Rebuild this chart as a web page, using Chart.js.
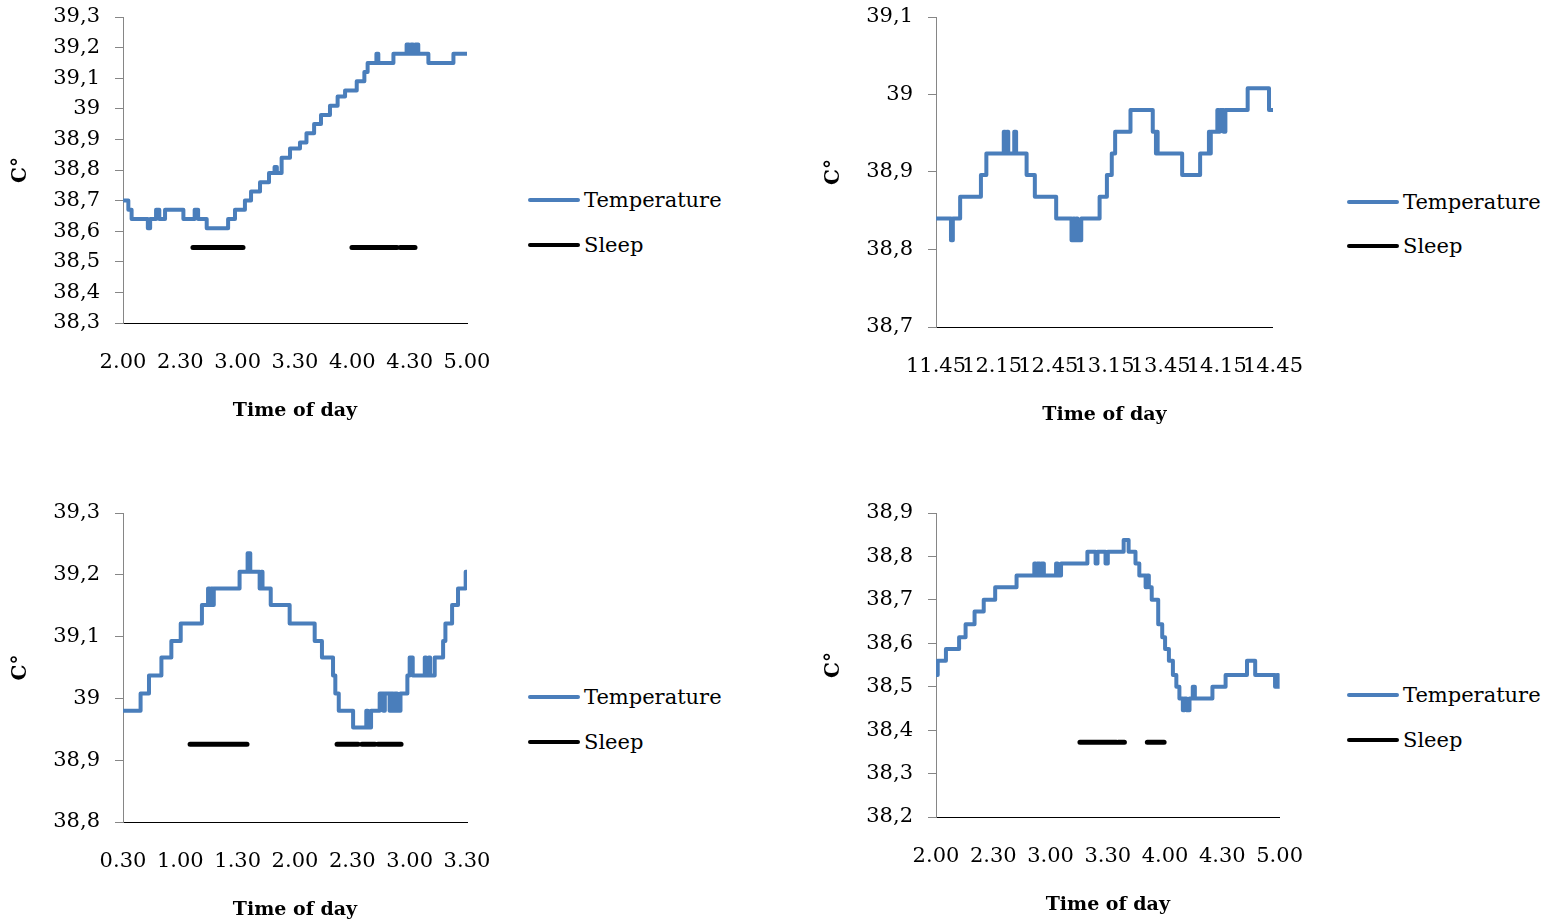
<!DOCTYPE html>
<html>
<head>
<meta charset="utf-8">
<script src="https://cdn.jsdelivr.net/npm/chart.js@4.4.0/dist/chart.umd.min.js"></script>
<style>
html,body{margin:0;padding:0;background:#fff;width:1555px;height:922px;overflow:hidden;}
canvas{position:absolute;}
.item{position:absolute;display:flex;align-items:center;height:26px;white-space:nowrap;font-family:"DejaVu Serif",serif;font-size:21px;color:#000;}
.sw{width:52px;height:4px;margin-right:4px;border-radius:2px;}
</style>
</head>
<body>
<canvas id="c1"></canvas>
<canvas id="c2"></canvas>
<canvas id="c3"></canvas>
<canvas id="c4"></canvas>
<div id="legends"></div>
<script>
// ---------- DATA ----------
const seriesNames = ['Temperature', 'Sleep'];
const xTitle = 'Time of day';
const yTitle = 'C°';

// Chart 1 (2.00 - 5.00)
const xLabels1 = ['2.00','2.30','3.00','3.30','4.00','4.30','5.00'];
const tempTime1 = [0, 2.8, 4.5, 13, 14.2, 17.3, 19, 22, 31.6, 37.5, 39.3, 43.8, 55, 58.6, 63.8, 67, 71.7, 76.4, 79.3, 80.5, 83, 87.4, 92.6, 96, 100, 103.6, 108.3, 112.3, 116.2, 122.3, 126.3, 128, 132.6, 133.6, 141.5, 148.4, 149.6, 150.7, 151.8, 153, 154.5, 159.8, 172.9, 180];
const tempValue1 = [38.70, 38.67, 38.64, 38.61, 38.64, 38.67, 38.64, 38.67, 38.64, 38.67, 38.64, 38.61, 38.64, 38.67, 38.70, 38.73, 38.76, 38.79, 38.81, 38.79, 38.84, 38.87, 38.89, 38.92, 38.95, 38.98, 39.01, 39.04, 39.06, 39.09, 39.12, 39.15, 39.18, 39.15, 39.18, 39.21, 39.18, 39.21, 39.18, 39.21, 39.18, 39.15, 39.18, 39.18];
const sleepStart1 = [36.6, 54.5, 119.8, 145];
const sleepEnd1 = [53.9, 62.8, 143.4, 152.8];
const sleepLevel1 = 38.547;
const yRange1 = [38.3, 39.3];

// Chart 2 (11.45 - 14.45)
const xLabels2 = ['11.45','12.15','12.45','13.15','13.45','14.15','14.45'];
const tempTime2 = [0, 8, 9, 12.9, 24, 26.9, 36.2, 37, 37.8, 38.6, 41.8, 42.8, 48.4, 52.8, 64.2, 72.4, 73.4, 74, 75, 75.6, 77.6, 87.4, 91.3, 93.9, 95.7, 103.9, 115.8, 117.5, 118, 118.4, 131.5, 141.1, 145.8, 146.3, 146.8, 150.3, 151, 151.6, 153.6, 154.6, 166.5, 177.9, 180];
const tempValue2 = [38.840, 38.812, 38.840, 38.868, 38.896, 38.924, 38.952, 38.924, 38.952, 38.924, 38.952, 38.924, 38.896, 38.868, 38.840, 38.812, 38.840, 38.812, 38.840, 38.812, 38.840, 38.868, 38.896, 38.924, 38.952, 38.980, 38.952, 38.924, 38.952, 38.924, 38.896, 38.924, 38.952, 38.924, 38.952, 38.980, 38.952, 38.980, 38.952, 38.980, 39.008, 38.980, 38.980];
const sleepStart2 = [];
const sleepEnd2 = [];
const sleepLevel2 = 38.75;
const yRange2 = [38.7, 39.1];

// Chart 3 (0.30 - 3.30)
const xLabels3 = ['0.30','1.00','1.30','2.00','2.30','3.00','3.30'];
const tempTime3 = [0, 9.2, 13.6, 20.1, 25.3, 30.2, 41.3, 44.5, 45.3, 46, 46.7, 47.5, 61, 65.2, 66.6, 71.5, 72.3, 73, 77.3, 87.2, 100.3, 104.1, 109.9, 111.1, 112.9, 120.4, 127.3, 128.1, 129.8, 134.3, 136.2, 137, 139.5, 140.3, 141.3, 142.2, 143.5, 145.2, 148.8, 150, 151.6, 157.9, 158.6, 160, 160.7, 163.1, 167.5, 168.7, 172.2, 175.3, 179.3, 180];
const tempValue3 = [38.980, 39.008, 39.037, 39.066, 39.093, 39.121, 39.151, 39.178, 39.151, 39.178, 39.151, 39.178, 39.205, 39.235, 39.205, 39.178, 39.205, 39.178, 39.151, 39.121, 39.093, 39.066, 39.037, 39.008, 38.980, 38.953, 38.980, 38.953, 38.980, 39.008, 38.980, 39.008, 38.980, 39.008, 38.980, 39.008, 38.980, 39.008, 39.037, 39.066, 39.037, 39.066, 39.037, 39.066, 39.037, 39.066, 39.093, 39.121, 39.151, 39.178, 39.205, 39.205];
const sleepStart3 = [35.1, 112, 125, 133.4];
const sleepEnd3 = [64.9, 123, 131.9, 145.5];
const sleepLevel3 = 38.926;
const yRange3 = [38.8, 39.3];

// Chart 4 (2.00 - 5.00)
const xLabels4 = ['2.00','2.30','3.00','3.30','4.00','4.30','5.00'];
const tempTime4 = [0, 0.9, 5.2, 12.1, 15.5, 20.2, 25, 31, 42.2, 51.5, 52.3, 53, 54.5, 55.2, 56.5, 62.9, 63.7, 65.5, 79.3, 83.6, 84.6, 88.8, 90, 98.3, 100.9, 104.5, 106.5, 109.8, 110.7, 111.5, 113, 116.4, 118.5, 120, 122, 124.1, 125.9, 127.5, 129.3, 130.2, 131.2, 132.8, 134.5, 135.6, 144.8, 151.7, 162.9, 167.2, 177.6, 178.6, 179.3, 180];
const tempValue4 = [38.527, 38.560, 38.587, 38.614, 38.644, 38.673, 38.700, 38.729, 38.756, 38.784, 38.756, 38.784, 38.756, 38.784, 38.756, 38.784, 38.756, 38.784, 38.811, 38.784, 38.811, 38.784, 38.811, 38.838, 38.811, 38.784, 38.756, 38.729, 38.756, 38.729, 38.700, 38.644, 38.614, 38.587, 38.560, 38.527, 38.500, 38.473, 38.446, 38.473, 38.446, 38.473, 38.500, 38.473, 38.500, 38.527, 38.560, 38.527, 38.500, 38.527, 38.500, 38.500];
const sleepStart4 = [75.4, 95.5, 110.7];
const sleepEnd4 = [94.5, 98.7, 119.5];
const sleepLevel4 = 38.372;
const yRange4 = [38.2, 38.9];

// ---------- LAYOUT / STYLE ----------
const FONT = '"DejaVu Serif", serif';
const BLUE = '#4A7EBB';
const layouts = [
  {id:'c1', left:0,   top:0,   w:520, area:{l:123, t:17,  r:467,  b:323}, yTitleX:21, legX:528,  legY:[200,245]},
  {id:'c2', left:810, top:0,   w:520, area:{l:936, t:17,  r:1279, b:327}, yTitleX:24, legX:1347, legY:[202,246]},
  {id:'c3', left:0,   top:490, w:520, area:{l:123, t:513, r:467,  b:822}, yTitleX:21, legX:528,  legY:[697,742]},
  {id:'c4', left:810, top:490, w:520, area:{l:936, t:513, r:1284, b:817}, yTitleX:24, legX:1347, legY:[695,740]}
];
const charts = [
  {xl:xLabels1, t:tempTime1, v:tempValue1, ss:sleepStart1, se:sleepEnd1, sl:sleepLevel1, yr:yRange1},
  {xl:xLabels2, t:tempTime2, v:tempValue2, ss:sleepStart2, se:sleepEnd2, sl:sleepLevel2, yr:yRange2},
  {xl:xLabels3, t:tempTime3, v:tempValue3, ss:sleepStart3, se:sleepEnd3, sl:sleepLevel3, yr:yRange3},
  {xl:xLabels4, t:tempTime4, v:tempValue4, ss:sleepStart4, se:sleepEnd4, sl:sleepLevel4, yr:yRange4}
];

function fmtY(v) {
  const r = Math.round(v * 10) / 10;
  return String(r).replace('.', ',');
}

function build(cfg, L) {
  const cv = document.getElementById(L.id);
  const H = L.area.b + 100 - L.top;
  cv.width = L.w; cv.height = H;
  cv.style.left = L.left + 'px'; cv.style.top = L.top + 'px';
  cv.style.width = L.w + 'px'; cv.style.height = H + 'px';
  const tempData = cfg.t.map((t, i) => ({x: t, y: cfg.v[i]}));
  const sleepData = [];
  cfg.ss.forEach((s, i) => {
    sleepData.push({x: s, y: cfg.sl}, {x: cfg.se[i], y: cfg.sl}, {x: cfg.se[i], y: null});
  });
  const yW = L.area.l - L.left;
  new Chart(cv, {
    type: 'line',
    data: {datasets: [
      {label: seriesNames[0], data: tempData, borderColor: BLUE, backgroundColor: BLUE, borderWidth: 4,
       stepped: true, pointRadius: 0, borderCapStyle: 'round', borderJoinStyle: 'round', fill: false},
      {label: seriesNames[1], data: sleepData, borderColor: '#000', backgroundColor: '#000', borderWidth: 5,
       pointRadius: 0, borderCapStyle: 'round', spanGaps: false, fill: false}
    ]},
    options: {
      responsive: false, animation: false, devicePixelRatio: 1,
      layout: {padding: {left: 0, top: L.area.t - L.top, right: L.left + L.w - L.area.r, bottom: 0}},
      plugins: {legend: {display: false}, tooltip: {enabled: false}},
      scales: {
        x: {
          type: 'linear', min: 0, max: 180,
          afterFit: s => { s.height = 100; },
          ticks: {stepSize: 30, autoSkip: false, maxRotation: 0, minRotation: 0, padding: 27,
                  font: {family: FONT, size: 21}, color: '#000',
                  callback: v => cfg.xl[Math.round(v / 30)]},
          grid: {display: false, drawTicks: false},
          border: {display: true, color: '#000', width: 1},
          title: {display: true, text: xTitle, color: '#000',
                  font: {family: FONT, size: 19, weight: 'bold'}, padding: {top: 0, bottom: 1}}
        },
        y: {
          type: 'linear', min: cfg.yr[0], max: cfg.yr[1],
          afterFit: s => { s.width = yW; s.paddingTop = 0; s.paddingBottom = 0; },
          ticks: {stepSize: 0.1, autoSkip: false, padding: 15,
                  font: {family: FONT, size: 21}, color: '#000', callback: v => fmtY(v)},
          grid: {display: true, drawOnChartArea: false, drawTicks: true, tickLength: 8, color: '#868686'},
          border: {display: true, color: '#868686', width: 1},
          title: {display: true, text: yTitle, color: '#000',
                  font: {family: FONT, size: 20, weight: 'bold'}, padding: {top: L.yTitleX - 12, bottom: 0}}
        }
      }
    }
  });
  // legend (HTML)
  const box = document.getElementById('legends');
  const cols = [BLUE, '#000'];
  seriesNames.forEach((name, i) => {
    const it = document.createElement('div');
    it.className = 'item';
    it.style.left = L.legX + 'px';
    it.style.top = (L.legY[i] - 13) + 'px';
    const sw = document.createElement('span');
    sw.className = 'sw'; sw.style.background = cols[i];
    const tx = document.createElement('span');
    tx.textContent = name;
    it.appendChild(sw); it.appendChild(tx);
    box.appendChild(it);
  });
}

charts.forEach((c, i) => build(c, layouts[i]));
</script>
</body>
</html>
